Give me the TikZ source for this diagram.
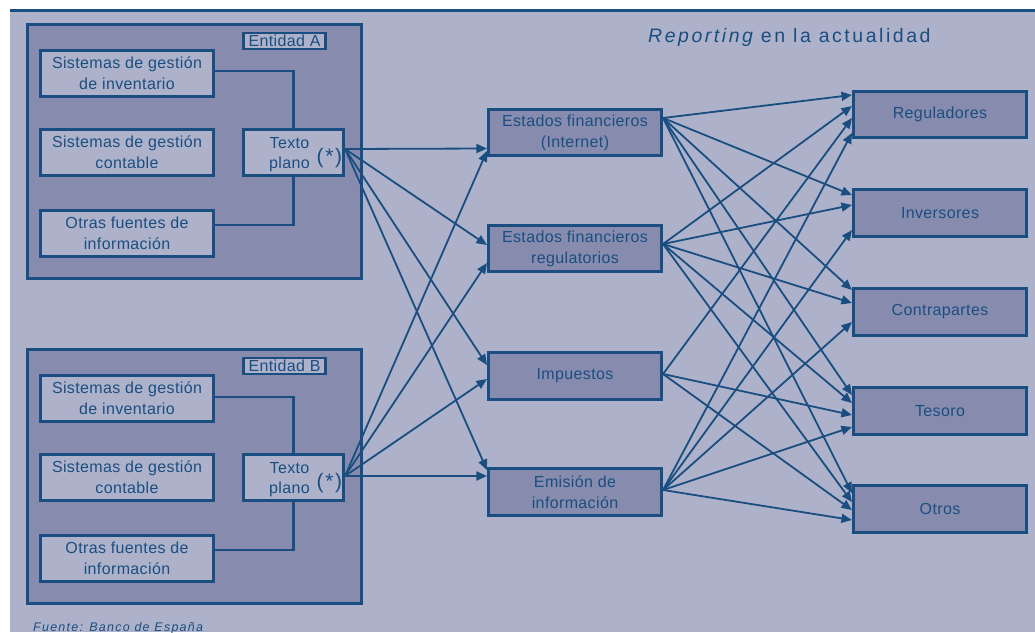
\documentclass[tikz,border=0pt]{standalone}
\usepackage{fontspec}
\setmainfont{Liberation Sans}
\newfontfamily\boxfont{Liberation Sans}[LetterSpace=2.3]
\newfontfamily\starfont{Liberation Sans}[LetterSpace=8]
\newfontfamily\headfont{Liberation Sans}[LetterSpace=13]
\newfontfamily\notefont{Liberation Sans}[LetterSpace=10]
\usetikzlibrary{arrows.meta,calc}

\definecolor{paper}{HTML}{ADB2CA}
\definecolor{shade}{HTML}{878CAE}
\definecolor{ink}{HTML}{1B4E80}

% arrow from the east side of one box to the west side of another,
% offsets measured downwards from the side's midpoint
\newcommand\flow[4]{\draw[arr] ($(#1.east)+(0,#2)$) -- ($(#3.west)+(0,#4)$);}

\begin{document}
\begin{tikzpicture}[x=1pt,y=-1pt,
  box/.style={draw=ink, line width=2.6pt, text=ink, align=center, inner sep=0pt,
    font=\boxfont\fontsize{16}{21}\selectfont},
  lightbox/.style={box, fill=paper, minimum width=173.5pt, minimum height=46.5pt},
  darkbox/.style={box, fill=shade, minimum width=173.5pt, minimum height=46.5pt},
  entity/.style={box, fill=shade, minimum width=334.5pt, minimum height=254.5pt},
  tag/.style={box, fill=paper, minimum width=82.5pt, minimum height=16pt},
  plainbox/.style={box, fill=paper, minimum width=100.5pt, minimum height=46.5pt},
  wire/.style={draw=ink, line width=2.6pt},
  arr/.style={draw=ink, line width=1.8pt, -{Triangle[length=10.5pt,width=9pt]}},
  txt/.style={text=ink, inner sep=0pt, align=center, font=\boxfont\fontsize{16}{20}\selectfont},
  star/.style={text=ink, inner sep=0pt, font=\starfont\fontsize{21}{23}\selectfont}
]
\useasboundingbox (0,0) rectangle (1035,632);

% panel and rule
\fill[paper] (10,11) rectangle (1035,632);
\draw[ink, line width=2.2pt] (10,10.5) -- (1035,10.5);

% entity frames
\node[entity] (entA) at (194.5,151.5) {};
\node[entity] (entB) at (194.5,476.5) {};
\node[tag] (tagA) at (284.5,41) {Entidad A};
\node[tag] (tagB) at (284.5,366) {Entidad B};

% sources of entity A
\node[lightbox] (invA) at (127,73.5) {Sistemas de gestión\\de inventario};
\node[lightbox] (conA) at (127,152.5) {Sistemas de gestión\\contable};
\node[lightbox] (otrA) at (127,233.5) {Otras fuentes de\\información};
\node[plainbox] (txA) at (293.5,152.5) {};
\node[txt] (txA-l) at (289.5,155) {Texto\\plano};
\node[star] (txA-s) at (329.5,158) {(*)};

% sources of entity B
\node[lightbox] (invB) at (127,398.5) {Sistemas de gestión\\de inventario};
\node[lightbox] (conB) at (127,477.5) {Sistemas de gestión\\contable};
\node[lightbox] (otrB) at (127,558.5) {Otras fuentes de\\información};
\node[plainbox] (txB) at (293.5,477.5) {};
\node[txt] (txB-l) at (289.5,480) {Texto\\plano};
\node[star] (txB-s) at (329.5,483) {(*)};

% feeds into the plain-text files
\draw[wire] ($(invA.east)+(0,-2.5)$) -| (txA.north);
\draw[wire] ($(otrA.east)+(0,-8.5)$) -| (txA.south);
\draw[wire] ($(invB.east)+(0,-1.5)$) -| (txB.north);
\draw[wire] ($(otrB.east)+(0,-8.5)$) -| (txB.south);

% reports
\node[darkbox] (efi) at (575,132.5) {Estados financieros\\(Internet)};
\node[darkbox] (efr) at (575,248.5) {Estados financieros\\regulatorios};
\node[darkbox] (imp) at (575,376) {Impuestos};
\node[darkbox] (emi) at (575,492) {Emisión de\\información};

% recipients
\node[darkbox] (reg) at (940,114.5) {Reguladores};
\node[darkbox] (inv) at (940,213) {Inversores};
\node[darkbox] (con) at (940,312) {Contrapartes};
\node[darkbox] (tes) at (940,411) {Tesoro};
\node[darkbox] (otr) at (940,509) {Otros};

% entities to reports
\flow{txA}{-3.5}{efi}{16}
\flow{txA}{-3.5}{efr}{-3.5}
\flow{txA}{-3.5}{imp}{-11}
\flow{txA}{-3.5}{emi}{-22}
\flow{txB}{-1.5}{efi}{18.5}
\flow{txB}{-1.5}{efr}{14.5}
\flow{txB}{-1.5}{imp}{3}
\flow{txB}{-1.5}{emi}{-16}

% reports to recipients
\flow{efi}{-14.5}{reg}{-19.5}
\flow{efi}{-14.5}{inv}{-18}
\flow{efi}{-14.5}{con}{-22}
\flow{efi}{-14.5}{tes}{-16}
\flow{efi}{-14.5}{otr}{-16}
\flow{efr}{-4.5}{reg}{-8.5}
\flow{efr}{-4.5}{inv}{-8}
\flow{efr}{-4.5}{con}{-9}
\flow{efr}{-4.5}{tes}{-8}
\flow{efr}{-4.5}{otr}{-7}
\flow{imp}{-2}{reg}{3.5}
\flow{imp}{-2}{tes}{4}
\flow{imp}{-2}{otr}{1}
\flow{emi}{-2}{reg}{18.5}
\flow{emi}{-2}{inv}{17}
\flow{emi}{-2}{con}{10}
\flow{emi}{-2}{tes}{16}
\flow{emi}{-2}{otr}{11}

% heading and source note
\node[anchor=base west, inner sep=0pt, text=ink, font=\headfont\fontsize{19.5}{22}\selectfont]
  (title) at (648,42) {\itshape Reporting\upshape{} en la actualidad};
\node[anchor=base west, inner sep=0pt, text=ink, font=\notefont\itshape\fontsize{12.5}{14}\selectfont]
  (source) at (33,631) {Fuente: Banco de España};
\end{tikzpicture}
\end{document}
